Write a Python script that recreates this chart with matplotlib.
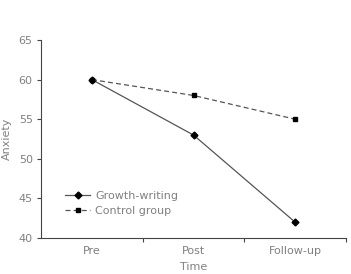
import numpy as np
import matplotlib.pyplot as plt
from matplotlib.ticker import FixedLocator

times = ['Pre', 'Post', 'Follow-up']
growth = [60, 53, 42]
control = [60, 58, 55]

gray = '#808080'
fig = plt.figure(figsize=[3.51, 2.74], dpi=100)
ax = fig.add_axes([0.117, 0.131, 0.869, 0.723])
x = np.arange(len(times))
ax.plot(x, growth, color='#555555', lw=0.9, marker='D', ms=3.5, mfc='black', mec='black', label='Growth-writing')
ax.plot(x, control, color='#555555', lw=0.9, ls=(0, (4, 2.5)), marker='s', ms=3.5, mfc='black', mec='black', label='Control group')

ax.set_xlim(-0.5, 2.5)
ax.set_ylim(40, 65)
ax.set_yticks(range(40, 66, 5))
ax.set_xticks(x)
ax.set_xticklabels(times)
ax.xaxis.set_minor_locator(FixedLocator([0.5, 1.5, 2.5]))
ax.tick_params(axis='x', which='major', length=0, pad=6, labelsize=8, labelcolor=gray)
ax.tick_params(axis='x', which='minor', length=3, color='#444444', width=0.8)
ax.tick_params(axis='y', length=3, color='#444444', width=0.8, labelsize=8, labelcolor=gray, pad=3)
for s in ['top', 'right']:
	ax.spines[s].set_visible(False)
for s in ['left', 'bottom']:
	ax.spines[s].set_color('#444444')
	ax.spines[s].set_linewidth(0.8)
ax.set_xlabel('Time', fontsize=8, color=gray, labelpad=4)
ax.set_ylabel('Anxiety', fontsize=8, color=gray, labelpad=5)
leg = ax.legend(loc='upper left', bbox_to_anchor=(0.065, 0.26), frameon=False, fontsize=8,
	handlelength=2.2, handletextpad=0.5, labelspacing=0.45, borderaxespad=0)
for t in leg.get_texts():
	t.set_color(gray)
fig.savefig('out.png', dpi=100)
